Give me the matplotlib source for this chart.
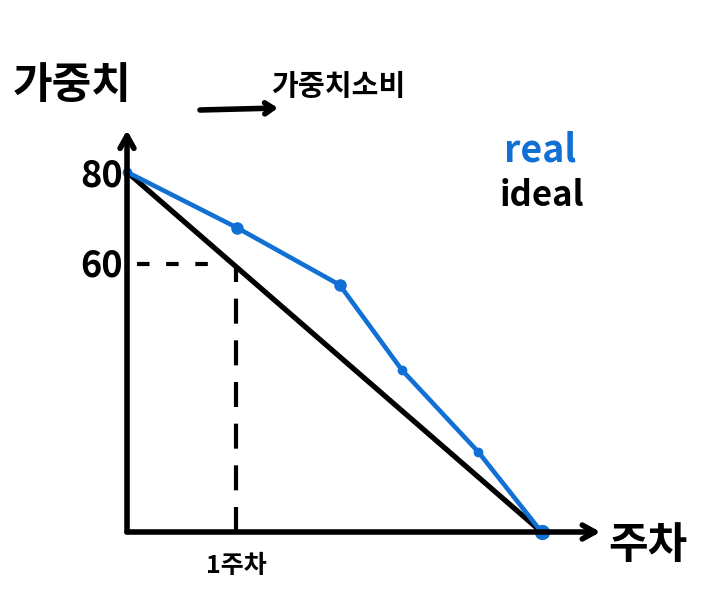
import matplotlib.pyplot as plt

plt.rcParams['font.family'] = ['Noto Sans CJK KR', 'DejaVu Sans']

# weeks on x, weight on y
ideal_x = [0, 3.8]
ideal_y = [80, 0]
real_x = [0, 1.01, 1.95, 2.52, 3.22, 3.8]
real_y = [80, 67.6, 54.9, 36, 17.8, 0]
ytick_vals = [60, 80]
xtick_vals = [1]
xtick_labels = ['1주차']

W, H = 719, 597
fig = plt.figure(figsize=(W / 100, H / 100), dpi=100)
ax = fig.add_axes([127 / W, 65 / H, 480 / W, 405 / H])
ax.set_xlim(0, 4.4)
ax.set_ylim(0, 90)
for s in ax.spines.values():
    s.set_visible(False)

# axis arrows
arrow = dict(arrowstyle='->,head_length=0.9,head_width=0.5', lw=4, color='black',
             shrinkA=0, shrinkB=0)
ax.annotate('', xy=(4.34, 0), xytext=(0, 0), arrowprops=arrow, annotation_clip=False)
ax.annotate('', xy=(0, 89.3), xytext=(0, 0), arrowprops=arrow, annotation_clip=False)

ax.plot(ideal_x, ideal_y, color='black', lw=3.8, solid_capstyle='round', clip_on=False)
ax.plot(real_x, real_y, color='#1170d4', lw=3.3, marker='o', ms=6, clip_on=False,
        solid_capstyle='round')
ax.plot(real_x[1:3:1], real_y[1:3:1], ls='none', marker='o', ms=8, color='#1170d4')
ax.plot(real_x[-1], real_y[-1], marker='o', ms=10, color='#1170d4', clip_on=False)

# guide for week 1
y1 = ideal_y[0] + (ideal_y[1] - ideal_y[0]) * (xtick_vals[0] - ideal_x[0]) / (ideal_x[1] - ideal_x[0])
ax.plot([0.09, xtick_vals[0] - 0.15], [y1 + 0.5, y1 + 0.5], color='black', lw=3,
        dashes=(3, 4))
ax.plot([xtick_vals[0], xtick_vals[0]], [0, y1], color='black', lw=3, dashes=(6, 4))

ax.set_yticks(ytick_vals)
ax.set_yticklabels([str(v) for v in ytick_vals], fontsize=26, fontweight='bold')
ax.set_xticks(xtick_vals)
ax.set_xticklabels(xtick_labels, fontsize=18, fontweight='bold')
ax.tick_params(length=0, pad=3)
ax.tick_params(axis='x', pad=16)


def px(x, y):
    return x / W, 1 - y / H


fig.text(*px(72, 85), '가중치', fontsize=31, fontweight='bold', ha='center', va='center')
fig.text(*px(338, 86), '가중치소비', fontsize=21, fontweight='bold', ha='center', va='center')
fig.text(*px(648, 545), '주차', fontsize=31, fontweight='bold', ha='center', va='center')
ax.annotate('', xy=px(278, 108), xytext=px(200, 110), xycoords='figure fraction',
            textcoords='figure fraction', annotation_clip=False,
            arrowprops=dict(arrowstyle='->,head_length=0.6,head_width=0.4', lw=4,
                            color='black', shrinkA=0, shrinkB=0))
fig.text(*px(540, 150), 'real', fontsize=27, fontweight='bold', color='#1170d4',
         ha='center', va='center', style='italic')
fig.text(*px(542, 196), 'ideal', fontsize=25, fontweight='bold', color='black',
         ha='center', va='center')

fig.savefig('out.png', dpi=100)
